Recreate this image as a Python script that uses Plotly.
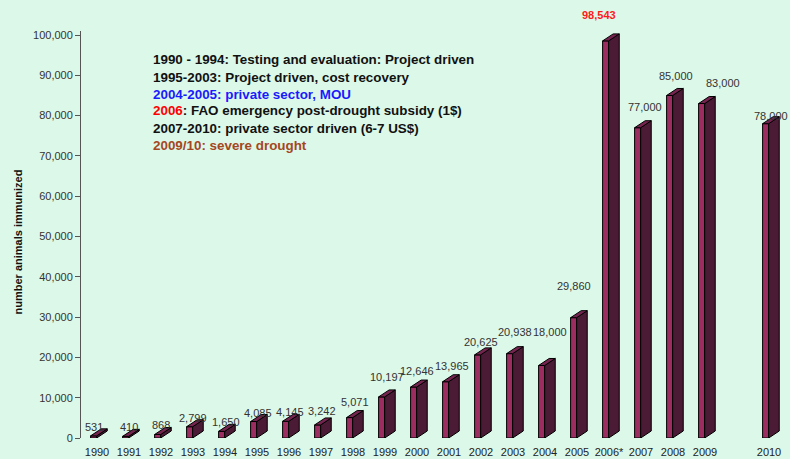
import plotly.graph_objects as go

# ---------------- data ----------------
categories = ["1990", "1991", "1992", "1993", "1994", "1995", "1996", "1997", "1998", "1999",
              "2000", "2001", "2002", "2003", "2004", "2005", "2006", "2007", "2008", "2009",
              "", "2010"]  # "" = empty spacer slot before 2010
tick_labels = ["1990", "1991", "1992", "1993", "1994", "1995", "1996", "1997", "1998", "1999",
               "2000", "2001", "2002", "2003", "2004", "2005", "2006*", "2007", "2008", "2009",
               "", "2010"]
values = [531, 410, 868, 2799, 1650, 4085, 4145, 3242, 5071, 10197,
          12646, 13965, 20625, 20938, 18000, 29860, 98543, 77000, 85000, 83000,
          None, 78000]

legend_lines = [
    ("1990 - 1994: Testing and evaluation: Project driven", "#111111"),
    ("1995-2003: Project driven, cost recovery", "#111111"),
    ("2004-2005: private sector, MOU", "#1a1aff"),
    ("<span style='color:#ff0000'>2006</span>: FAO emergency post-drought subsidy (1$)", "#111111"),
    ("2007-2010: private sector driven (6-7 US$)", "#111111"),
    ("2009/10: severe drought", "#a5471f"),
]

# ---------------- styling / layout ----------------
W, H = 790, 459
ML, MR, MT, MB = 81, 5, 31, 21
PW, PH = W - ML - MR, H - MT - MB
Y_MAX = 101000

FRONT_OFF, FRONT_W = -0.20, 0.19      # front face (category units)
DEPTH_X = 0.33                        # depth in category units
DEPTH_Y = 7.0 * Y_MAX / PH            # depth of 7 px in value units

FRONT_C, SIDE_C, TOP_C = "#9c2d60", "#4b1a34", "#74244f"
BG = "#dcf8e9"
FONT = "Liberation Sans, Arial, sans-serif"

# label nudges (px): category -> (dx, dy above front top)
label_nudge = {
    "1990": (-3, 9), "1991": (0, 9), "1992": (0, 10), "1993": (0, 9), "1994": (1, 9),
    "1995": (1, 9), "1996": (1, 9), "1997": (1, 14), "1998": (2, 16), "1999": (2, 20),
    "2000": (0, 16), "2001": (3, 16), "2002": (0, 13), "2003": (2, 22), "2004": (5, 33),
    "2005": (-3, 32), "2006": (-10, 26), "2007": (4, 21), "2008": (3, 19), "2009": (18, 21),
    "2010": (2, 8),
}

pos = list(range(len(categories)))
bx = [p for p, v in zip(pos, values) if v is not None]
bv = [v for v in values if v is not None]
bc = [c for c, v in zip(categories, values) if v is not None]

fig = go.Figure()

# front faces
fig.add_trace(go.Bar(x=bx, y=bv, width=FRONT_W, offset=FRONT_OFF,
                     marker=dict(color=FRONT_C, line=dict(color="#000000", width=1)),
                     hoverinfo="skip", showlegend=False))

# side faces and top faces as polygons in data space
sx, sy, tx, ty = [], [], [], []
for p, v in zip(bx, bv):
    xr = p + FRONT_OFF + FRONT_W
    xl = p + FRONT_OFF
    sx += [xr, xr + DEPTH_X, xr + DEPTH_X, xr, xr, None]
    sy += [0, DEPTH_Y, v + DEPTH_Y, v, 0, None]
    tx += [xl, xr, xr + DEPTH_X, xl + DEPTH_X, xl, None]
    ty += [v, v, v + DEPTH_Y, v + DEPTH_Y, v, None]

fig.add_trace(go.Scatter(x=sx, y=sy, mode="lines", fill="toself", fillcolor=SIDE_C,
                         line=dict(color="#000000", width=1), hoverinfo="skip",
                         showlegend=False))
fig.add_trace(go.Scatter(x=tx, y=ty, mode="lines", fill="toself", fillcolor=TOP_C,
                         line=dict(color="#000000", width=1), hoverinfo="skip",
                         showlegend=False))

annotations = []
for p, v, c in zip(bx, bv, bc):
    dx, dy = label_nudge.get(c, (0, 12))
    special = c == "2006"
    label = f"<b>{v:,}</b>" if special else f"{v:,}"
    annotations.append(dict(
        x=p, y=v, xref="x", yref="y", text=label, showarrow=False,
        xshift=dx, yshift=dy, xanchor="center", yanchor="middle",
        font=dict(family=FONT, size=11, color="#ff1a1a" if special else "#333333")))


def px_x(px):
    return (px - ML) / PW


def px_y(py):
    return (H - MB - py) / PH


line_y = [60, 77, 94, 111, 128, 145]
for (txt, col), yy in zip(legend_lines, line_y):
    annotations.append(dict(
        x=px_x(151), y=px_y(yy), xref="paper", yref="paper", text=f"<b>{txt}</b>",
        showarrow=False, xanchor="left", yanchor="middle",
        font=dict(family=FONT, size=13.4, color=col)))

annotations.append(dict(
    x=px_x(17.5), y=px_y(242), xref="paper", yref="paper",
    text="<b>number animals immunized</b>", textangle=-90, showarrow=False,
    xanchor="center", yanchor="middle",
    font=dict(family=FONT, size=11, color="#111111")))

fig.update_layout(
    width=W, height=H,
    margin=dict(l=ML, r=MR, t=MT, b=MB, pad=0, autoexpand=False),
    paper_bgcolor=BG, plot_bgcolor=BG,
    showlegend=False,
    annotations=annotations,
    font=dict(family=FONT, size=11, color="#333333"),
    xaxis=dict(range=[-0.5, len(categories) - 0.5], tickmode="array",
               tickvals=pos, ticktext=tick_labels, showgrid=False, zeroline=False,
               showline=False, ticks="", tickfont=dict(size=11, color="#222222"),
               ticklabelstandoff=6, automargin=False, fixedrange=True),
    yaxis=dict(range=[0, Y_MAX], tickmode="linear", tick0=0, dtick=10000,
               tickformat=",d", showgrid=False, zeroline=False, showline=True,
               linecolor="#555555", linewidth=1, ticks="outside", ticklen=5,
               tickcolor="#555555", tickfont=dict(size=11, color="#333333"),
               automargin=False, fixedrange=True),
)

fig.write_html("out.html", config={"displayModeBar": False},
               post_script="document.body.style.margin='0';document.body.style.padding='0';")
